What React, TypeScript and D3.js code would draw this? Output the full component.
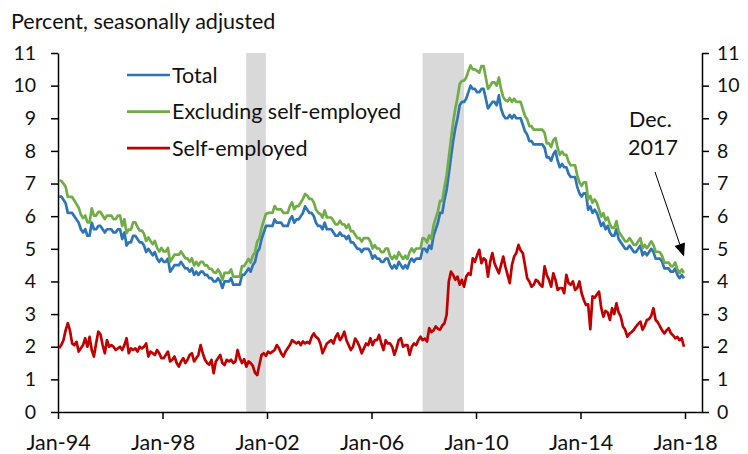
import { useEffect, useRef } from "react";
import * as d3 from "d3";

// monthly, Jan-1994 .. Dec-2017
const startYear = 1994;

const total = [
  6.6, 6.6, 6.5, 6.4, 6.1, 6.1, 6.1, 6.0, 5.9, 5.8, 5.6, 5.5, // 1994
  5.6, 5.4, 5.4, 5.8, 5.6, 5.6, 5.7, 5.7, 5.6, 5.5, 5.6, 5.6, // 1995
  5.6, 5.5, 5.5, 5.6, 5.6, 5.3, 5.5, 5.1, 5.2, 5.2, 5.4, 5.4, // 1996
  5.3, 5.2, 5.2, 5.1, 4.9, 5.0, 4.9, 4.8, 4.9, 4.7, 4.6, 4.7, // 1997
  4.6, 4.6, 4.7, 4.3, 4.4, 4.5, 4.5, 4.5, 4.6, 4.5, 4.4, 4.4, // 1998
  4.3, 4.4, 4.2, 4.3, 4.2, 4.3, 4.3, 4.2, 4.2, 4.1, 4.1, 4.0, // 1999
  4.0, 4.1, 4.0, 3.8, 4.0, 4.0, 4.0, 4.1, 3.9, 3.9, 3.9, 3.9, // 2000
  4.2, 4.2, 4.3, 4.4, 4.3, 4.5, 4.6, 4.9, 5.0, 5.3, 5.5, 5.7, // 2001
  5.7, 5.7, 5.7, 5.9, 5.8, 5.8, 5.8, 5.7, 5.7, 5.7, 5.9, 6.0, // 2002
  5.8, 5.9, 5.9, 6.0, 6.1, 6.3, 6.2, 6.1, 6.1, 6.0, 5.8, 5.7, // 2003
  5.7, 5.6, 5.8, 5.6, 5.6, 5.6, 5.5, 5.4, 5.4, 5.5, 5.4, 5.4, // 2004
  5.3, 5.4, 5.2, 5.2, 5.1, 5.0, 5.0, 4.9, 5.0, 5.0, 5.0, 4.9, // 2005
  4.7, 4.8, 4.7, 4.7, 4.6, 4.6, 4.7, 4.7, 4.5, 4.4, 4.5, 4.4, // 2006
  4.6, 4.5, 4.4, 4.5, 4.4, 4.6, 4.7, 4.6, 4.7, 4.7, 4.7, 5.0, // 2007
  5.0, 4.9, 5.1, 5.0, 5.4, 5.6, 5.8, 6.1, 6.1, 6.5, 6.8, 7.3, // 2008
  7.8, 8.3, 8.7, 9.0, 9.4, 9.5, 9.5, 9.6, 9.8, 10.0, 9.9, 9.9, // 2009
  9.8, 9.8, 9.9, 9.9, 9.6, 9.3, 9.4, 9.5, 9.5, 9.4, 9.7, 9.3, // 2010
  9.1, 9.0, 9.0, 9.1, 9.0, 9.1, 9.0, 9.0, 9.0, 8.8, 8.6, 8.5, // 2011
  8.3, 8.3, 8.2, 8.2, 8.2, 8.2, 8.2, 8.1, 7.8, 7.8, 7.7, 7.9, // 2012
  8.0, 7.7, 7.5, 7.6, 7.5, 7.5, 7.3, 7.2, 7.2, 7.2, 6.9, 6.7, // 2013
  6.6, 6.7, 6.7, 6.2, 6.3, 6.1, 6.2, 6.1, 5.9, 5.7, 5.8, 5.6, // 2014
  5.7, 5.5, 5.4, 5.4, 5.6, 5.3, 5.2, 5.1, 5.0, 5.0, 5.1, 5.0, // 2015
  4.9, 4.9, 5.0, 5.1, 4.8, 4.9, 4.8, 4.9, 5.0, 4.9, 4.7, 4.7, // 2016
  4.7, 4.6, 4.4, 4.4, 4.4, 4.3, 4.3, 4.4, 4.2, 4.1, 4.2, 4.1, // 2017
];

const excludingSelf = [
  7.1, 7.08, 7.0, 6.9, 6.59, 6.59, 6.59, 6.48, 6.37, 6.26, 6.05, 5.94,
  6.02, 5.81, 5.81, 6.24, 6.02, 6.02, 6.13, 6.13, 6.02, 5.91, 6.02, 6.02,
  6.02, 5.91, 5.91, 6.02, 6.02, 5.70, 5.91, 5.48, 5.59, 5.59, 5.81, 5.81,
  5.67, 5.56, 5.56, 5.46, 5.24, 5.35, 5.24, 5.14, 5.24, 5.03, 4.92, 5.03,
  4.92, 4.92, 5.03, 4.60, 4.71, 4.82, 4.82, 4.82, 4.92, 4.82, 4.71, 4.71,
  4.60, 4.71, 4.49, 4.60, 4.49, 4.60, 4.60, 4.49, 4.49, 4.39, 4.39, 4.28,
  4.26, 4.37, 4.26, 4.05, 4.26, 4.26, 4.26, 4.37, 4.15, 4.15, 4.15, 4.15,
  4.47, 4.47, 4.58, 4.69, 4.58, 4.79, 4.90, 5.22, 5.33, 5.64, 5.86, 6.07,
  6.10, 6.10, 6.10, 6.31, 6.21, 6.21, 6.21, 6.10, 6.10, 6.10, 6.31, 6.42,
  6.21, 6.31, 6.31, 6.42, 6.53, 6.68, 6.63, 6.53, 6.53, 6.42, 6.21, 6.10,
  6.07, 5.96, 6.18, 5.96, 5.96, 5.96, 5.86, 5.75, 5.75, 5.86, 5.75, 5.75,
  5.64, 5.75, 5.54, 5.54, 5.43, 5.33, 5.33, 5.22, 5.33, 5.33, 5.33, 5.22,
  5.01, 5.11, 5.01, 5.01, 4.90, 4.90, 5.01, 5.01, 4.79, 4.69, 4.79, 4.69,
  4.90, 4.79, 4.69, 4.79, 4.69, 4.90, 5.01, 4.90, 5.01, 5.01, 5.01, 5.33,
  5.30, 5.19, 5.41, 5.30, 5.72, 5.94, 6.15, 6.47, 6.47, 6.89, 7.25, 7.8,
  8.35, 8.88, 9.3, 9.63, 10.05, 10.15, 10.15, 10.25, 10.45, 10.62, 10.5, 10.5,
  10.45, 10.4, 10.6, 10.6, 10.25, 9.9, 10.0, 10.1, 10.1, 10.0, 10.25, 9.9,
  9.65, 9.55, 9.52, 9.62, 9.5, 9.6, 9.5, 9.5, 9.5, 9.28, 9.07, 8.97,
  8.76, 8.76, 8.65, 8.65, 8.65, 8.65, 8.65, 8.55, 8.23, 8.23, 8.12, 8.33,
  8.40, 8.09, 7.88, 7.98, 7.88, 7.88, 7.67, 7.56, 7.56, 7.56, 7.25, 7.04,
  6.93, 7.04, 7.04, 6.51, 6.62, 6.41, 6.51, 6.41, 6.20, 5.99, 6.09, 5.88,
  5.96, 5.75, 5.64, 5.64, 5.85, 5.54, 5.43, 5.33, 5.23, 5.23, 5.33, 5.23,
  5.12, 5.12, 5.23, 5.33, 5.02, 5.12, 5.02, 5.12, 5.23, 5.12, 4.91, 4.91,
  4.89, 4.78, 4.58, 4.58, 4.58, 4.47, 4.47, 4.58, 4.37, 4.26, 4.37, 4.26,
];

const selfEmployed = [
  1.95, 2.05, 2.2, 2.5, 2.72, 2.5, 2.1, 2.05, 2.15, 1.85, 1.95, 2.05,
  2.26, 2.0, 2.3, 1.9, 1.7, 2.1, 2.46, 2.38, 2.05, 1.8, 2.2, 2.0,
  2.05, 2.0, 1.9, 1.95, 2.0, 1.9, 2.05, 2.26, 1.8, 1.95, 1.9, 1.95,
  1.85, 2.0, 1.95, 2.0, 2.1, 1.7, 1.85, 1.8, 1.75, 1.9, 1.8, 1.65,
  1.65, 1.75, 1.85, 1.55, 1.6, 1.7, 1.5, 1.39, 1.55, 1.65, 1.5, 1.6,
  1.75, 1.8, 1.55, 1.65, 1.75, 2.05, 1.8, 1.6, 1.5, 1.45, 1.6, 1.19,
  1.55, 1.65, 1.75, 1.5, 1.44, 1.6, 1.55, 1.6, 1.5, 1.55, 1.9, 1.65,
  1.5, 1.62, 1.39, 1.55, 1.5, 1.41, 1.2, 1.13, 1.45, 1.75, 1.8, 1.72,
  1.85, 1.8, 1.85, 1.9, 2.05, 1.95, 1.8, 1.7, 1.85, 1.95, 2.05, 2.2,
  2.15, 2.1, 2.15, 2.05, 2.16, 2.1, 2.15, 2.1, 2.3, 2.41, 2.3, 2.25,
  2.1, 1.8, 1.95, 2.1, 2.15, 2.2, 2.1, 2.3, 2.41, 2.2, 2.3, 2.46,
  2.2, 2.05, 1.9, 2.0, 2.25, 2.15, 2.0, 1.8, 1.95, 2.1, 2.05, 2.26,
  2.05, 2.2, 2.2, 2.36, 2.1, 1.9, 2.2, 2.1, 2.1, 2.0, 1.75, 1.95,
  2.2, 2.26, 2.0, 2.05, 2.05, 1.75, 2.0, 2.1, 2.05, 2.2, 2.31, 2.2,
  2.25, 2.16, 2.57, 2.45, 2.5, 2.62, 2.55, 2.52, 2.65, 2.72, 2.98, 4.0,
  4.3, 4.2, 4.05, 4.15, 3.9, 4.05, 3.84, 4.15, 4.25, 4.2, 4.71, 4.6,
  4.8, 4.97, 4.56, 4.71, 4.65, 4.15, 4.6, 4.87, 4.56, 4.4, 4.25, 4.5,
  4.76, 4.45, 4.2, 3.95, 4.5, 4.76, 4.87, 5.12, 4.95, 4.87, 4.5, 4.1,
  4.0, 3.84, 3.9, 4.05, 4.0, 3.9, 3.84, 4.46, 4.2, 4.05, 3.84, 4.25,
  4.05, 3.74, 3.8, 3.8, 3.64, 4.2, 3.95, 3.9, 4.0, 3.74, 3.8, 4.0,
  3.64, 3.44, 3.28, 3.3, 2.54, 3.54, 3.5, 3.6, 3.69, 3.2, 2.92, 3.1,
  3.05, 2.82, 3.18, 3.0, 3.33, 3.05, 2.92, 2.62, 2.52, 2.31, 2.4, 2.45,
  2.52, 2.62, 2.7, 2.77, 2.52, 2.65, 2.82, 2.85, 2.95, 3.18, 2.82, 2.75,
  2.62, 2.5, 2.41, 2.5, 2.57, 2.41, 2.35, 2.26, 2.3, 2.2, 2.26, 2.0,
];

const seriesNames = ["Total", "Excluding self-employed", "Self-employed"];
const yTicks = d3.range(0, 12);
const xTickYears = [1994, 1998, 2002, 2006, 2010, 2014, 2018];
// recession periods as [start, end] in fractional years
const recessions = [
  [2001 + 2 / 12, 2001 + 11 / 12],
  [2007 + 11 / 12, 2009 + 6 / 12],
];

const colors = ["#2E75B6", "#70AD47", "#C00000"];
const font = "Lato, 'Open Sans', sans-serif";
const ink = "#111";

const App = () => {
  const chartRef = useRef<SVGSVGElement>(null);

  useEffect(() => {
    document.body.style.margin = "0";
    const svg = d3.select(chartRef.current);
    svg.selectAll("*").remove();

    const x = d3.scaleLinear().domain([1994, 2018.65]).range([58, 702]);
    const y = d3.scaleLinear().domain([0, 11]).range([412, 53]);
    // month index -> fractional year (plotted a touch after month start, like the source)
    const t = (i: number) => startYear + (i + 0.5) / 12;

    // recession shading
    svg
      .append("g")
      .selectAll("rect")
      .data(recessions)
      .join("rect")
      .attr("x", (d) => x(d[0]) + 1)
      .attr("width", (d) => x(d[1]) - x(d[0]))
      .attr("y", y(11))
      .attr("height", y(0) - y(11))
      .attr("fill", "#D9D9D9");

    // axes
    const styleAxis = (g: any, size: number) => {
      g.selectAll("path").attr("stroke", "#000").attr("stroke-width", 1.5);
      g.selectAll("line").attr("stroke", "#000").attr("stroke-width", 1.5);
      g.selectAll("text")
        .attr("font-family", font)
        .attr("font-size", size)
        .attr("fill", ink);
    };

    svg
      .append("g")
      .attr("transform", "translate(58,0)")
      .call(
        d3.axisLeft(y).tickValues(yTicks).tickSize(7).tickSizeOuter(0).tickPadding(15).tickFormat(d3.format("d"))
      )
      .call((g) => styleAxis(g, 19.5));

    svg
      .append("g")
      .attr("transform", "translate(702,0)")
      .call(
        d3.axisRight(y).tickValues(yTicks).tickSize(7).tickSizeOuter(0).tickPadding(8).tickFormat(d3.format("d"))
      )
      .call((g) => styleAxis(g, 19.5));

    svg
      .append("g")
      .attr("transform", "translate(0,412)")
      .call(
        d3
          .axisBottom(x)
          .tickValues(xTickYears)
          .tickSize(7)
          .tickSizeOuter(0)
          .tickPadding(16)
          .tickFormat((d) => "Jan-" + String(d).slice(2))
      )
      .call((g) => styleAxis(g, 21.5));

    svg.selectAll(".domain").attr("fill", "none");

    // lines
    const line = d3
      .line<number>()
      .x((_, i) => x(t(i)))
      .y((d) => y(d));

    [total, excludingSelf, selfEmployed].forEach((series, k) => {
      svg
        .append("path")
        .datum(series)
        .attr("fill", "none")
        .attr("stroke", colors[k])
        .attr("stroke-width", 2.7)
        .attr("stroke-linejoin", "round")
        .attr("d", line);
    });

    // legend
    const legend = svg
      .append("g")
      .selectAll("g")
      .data(seriesNames)
      .join("g")
      .attr("transform", (_, i) => `translate(127,${75 + i * 36.6})`);
    legend
      .append("line")
      .attr("x1", 0)
      .attr("x2", 43)
      .attr("stroke", (_, i) => colors[i])
      .attr("stroke-width", 2.7);
    legend
      .append("text")
      .attr("x", 45)
      .attr("y", 7.5)
      .attr("font-family", font)
      .attr("font-size", 21.5)
      .attr("fill", ink)
      .text((d) => d);

    // title
    svg
      .append("text")
      .attr("x", 11)
      .attr("y", 29)
      .attr("font-family", font)
      .attr("font-size", 21.5)
      .attr("fill", ink)
      .text("Percent, seasonally adjusted");

    // annotation
    const note = svg
      .append("text")
      .attr("font-family", font)
      .attr("font-size", 21.5)
      .attr("fill", ink);
    note.append("tspan").attr("x", 629).attr("y", 126.5).text("Dec.");
    note.append("tspan").attr("x", 628).attr("y", 155).text("2017");

    const from = [655, 172];
    const tip = [684, 256.5];
    const len = Math.hypot(tip[0] - from[0], tip[1] - from[1]);
    const ux = (tip[0] - from[0]) / len;
    const uy = (tip[1] - from[1]) / len;
    const head = 13;
    const half = 5.5;
    const bx = tip[0] - ux * head;
    const by = tip[1] - uy * head;
    svg
      .append("line")
      .attr("x1", from[0])
      .attr("y1", from[1])
      .attr("x2", bx)
      .attr("y2", by)
      .attr("stroke", "#000")
      .attr("stroke-width", 1);
    svg
      .append("path")
      .attr(
        "d",
        `M${tip[0]},${tip[1]}L${bx - uy * half},${by + ux * half}L${bx + uy * half},${by - ux * half}Z`
      )
      .attr("fill", "#000");
  }, []);

  return <svg ref={chartRef} width={748} height={454} style={{ display: "block" }}></svg>;
};

export default App;
